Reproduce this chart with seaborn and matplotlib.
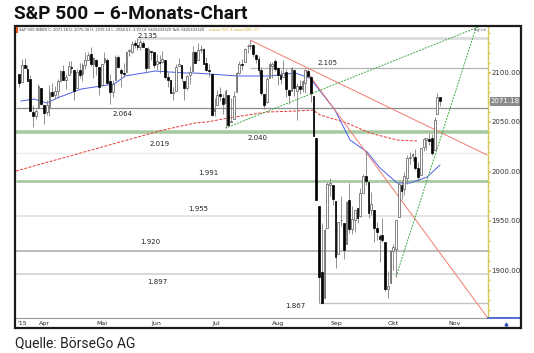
import matplotlib
matplotlib.use('Agg')
import matplotlib.pyplot as plt
from matplotlib.patches import Rectangle
from matplotlib.ticker import MultipleLocator
import numpy as np
import pandas as pd
import seaborn as sns

# Handelstage S&P 500 (US-Feiertage ausgenommen)
first_day = '2015-03-19'
last_day = '2015-10-26'
holidays = ['2015-04-03', '2015-05-25', '2015-07-03', '2015-09-07']

opens = [2098.69, 2090.32,
         2107.99, 2103.94, 2093.10, 2059.94, 2055.78, 2064.11, 2084.05,
         2067.63, 2060.03, 2064.87, 2080.79, 2076.94, 2081.29, 2091.51, 2102.03, 2092.28, 2097.82, 2105.96,
         2102.58, 2084.11, 2102.82, 2098.27, 2107.21, 2112.80, 2119.29, 2108.35, 2112.49, 2105.52,
         2087.38, 2110.23, 2112.63, 2091.26, 2079.96, 2092.13, 2115.56, 2102.87, 2099.62, 2100.43,
         2122.07, 2121.30, 2129.45, 2127.79, 2125.55, 2130.36, 2125.34, 2105.13, 2122.27, 2120.66,
         2108.64, 2110.41, 2110.64, 2112.35, 2095.09, 2092.34, 2079.07, 2081.12, 2106.24, 2107.43, 2091.34,
         2084.26, 2097.40, 2101.58, 2121.06, 2112.50, 2123.16, 2123.65, 2109.96, 2102.62, 2098.63, 2061.19,
         2067.00, 2078.03, 2073.95, 2069.52, 2077.66, 2049.73, 2052.74, 2080.03, 2099.72, 2109.21, 2110.55,
         2126.80, 2126.85, 2127.55, 2118.21, 2114.16, 2102.24, 2078.19, 2070.75, 2094.70, 2106.78, 2111.60,
         2104.49, 2097.68, 2095.27, 2100.75, 2082.61, 2080.98, 2102.66, 2081.10, 2086.19, 2083.15, 2089.70,
         2101.99, 2095.69, 2076.61, 2034.08, 1965.15, 1898.08, 1872.75, 1942.77, 1986.06, 1986.73,
         1970.09, 1916.52, 1950.79, 1947.76, 1927.30, 1971.45, 1941.59, 1951.45, 1963.06, 1955.10, 1978.02,
         1995.33, 1989.66, 1960.84, 1961.39, 1943.24, 1934.81, 1935.93, 1929.18, 1881.90, 1887.14,
         1919.65, 1921.77, 1954.33, 1986.63, 1982.34, 1994.01, 2013.73, 2015.65, 2015.00, 2003.66, 1996.47,
         2024.37, 2031.73, 2033.13, 2033.47, 2021.88, 2058.19, 2075.08]
highs = [2098.69, 2113.92,
         2114.86, 2107.63, 2097.43, 2067.15, 2062.83, 2088.97, 2084.05,
         2067.63, 2072.17, 2086.99, 2089.81, 2086.69, 2093.31, 2102.61, 2107.65, 2098.62, 2111.91, 2111.30,
         2102.58, 2103.94, 2109.64, 2109.98, 2120.49, 2120.92, 2125.92, 2116.04, 2113.65, 2105.52,
         2108.41, 2120.95, 2115.24, 2098.42, 2092.90, 2117.66, 2117.69, 2105.06, 2110.19, 2121.45,
         2123.89, 2131.78, 2133.02, 2134.72, 2134.28, 2132.15, 2125.34, 2126.22, 2122.27, 2120.66,
         2119.15, 2117.59, 2121.92, 2112.89, 2100.99, 2093.01, 2085.62, 2108.50, 2115.02, 2107.43, 2091.34,
         2097.40, 2106.79, 2126.65, 2121.64, 2129.87, 2128.03, 2125.10, 2116.04, 2108.92, 2098.63, 2074.28,
         2082.78, 2085.06, 2078.61, 2083.74, 2077.66, 2074.28, 2081.31, 2100.67, 2111.98, 2114.14, 2124.42,
         2128.91, 2132.82, 2128.49, 2118.51, 2116.87, 2106.01, 2078.19, 2095.60, 2110.60, 2110.48, 2114.24,
         2105.70, 2102.51, 2112.66, 2103.32, 2082.61, 2105.35, 2102.66, 2089.06, 2092.93, 2092.45, 2102.87,
         2103.47, 2096.17, 2076.61, 2034.08, 1965.15, 1948.04, 1943.09, 1989.60, 1993.48, 1986.73,
         1970.09, 1948.91, 1975.01, 1947.76, 1970.42, 1988.63, 1965.29, 1961.05, 1963.06, 1983.19, 1997.26,
         2020.86, 1989.66, 1979.64, 1961.39, 1949.52, 1937.17, 1952.89, 1929.18, 1899.48, 1920.53,
         1927.21, 1951.36, 1989.17, 1991.62, 1999.31, 2016.50, 2020.13, 2018.66, 2022.34, 2009.56, 2024.15,
         2033.54, 2034.45, 2039.12, 2037.97, 2055.20, 2079.74, 2075.14]
lows = [2085.56, 2090.32,
        2104.42, 2091.50, 2061.05, 2045.50, 2052.96, 2064.11, 2067.04,
        2048.38, 2057.32, 2056.52, 2076.10, 2073.30, 2074.29, 2091.51, 2092.33, 2083.24, 2097.82, 2100.02,
        2072.37, 2084.11, 2094.38, 2091.05, 2103.19, 2112.80, 2107.04, 2094.89, 2097.41, 2077.59,
        2087.38, 2108.29, 2088.46, 2067.93, 2074.99, 2092.13, 2104.58, 2085.57, 2096.04, 2100.43,
        2116.81, 2120.01, 2124.50, 2122.59, 2122.95, 2126.06, 2099.18, 2105.13, 2112.86, 2104.89,
        2102.54, 2099.14, 2109.61, 2093.23, 2085.67, 2079.11, 2072.14, 2081.12, 2106.24, 2091.33, 2072.49,
        2082.10, 2088.86, 2101.58, 2109.45, 2112.50, 2119.89, 2108.58, 2101.78, 2095.38, 2056.64, 2056.32,
        2067.00, 2071.02, 2058.40, 2044.02, 2044.66, 2049.73, 2052.74, 2080.03, 2098.18, 2102.49, 2110.55,
        2119.88, 2123.66, 2115.40, 2110.00, 2098.63, 2077.09, 2063.52, 2069.09, 2094.08, 2094.97, 2102.07,
        2087.31, 2088.60, 2095.27, 2075.53, 2067.91, 2080.98, 2076.49, 2052.09, 2078.26, 2080.61, 2079.30,
        2094.14, 2070.53, 2035.73, 1970.89, 1867.01, 1867.08, 1872.75, 1942.77, 1975.19, 1965.98,
        1903.07, 1916.52, 1944.72, 1911.21, 1927.30, 1937.88, 1937.19, 1939.19, 1948.27, 1954.30, 1977.93,
        1986.73, 1953.45, 1955.80, 1929.22, 1930.67, 1908.92, 1928.40, 1879.21, 1871.91, 1887.14,
        1900.70, 1893.70, 1954.33, 1971.99, 1976.44, 1987.53, 2007.61, 2010.55, 2001.78, 1990.73, 1996.47,
        2020.46, 2022.31, 2026.61, 2017.22, 2021.88, 2058.19, 2066.53]
closes = [2089.27, 2108.10,
          2104.42, 2091.50, 2061.05, 2056.15, 2061.02, 2086.24, 2067.89,
          2059.69, 2066.96, 2080.62, 2076.33, 2081.90, 2091.18, 2102.06, 2092.43, 2095.84, 2106.63, 2104.99,
          2081.18, 2100.40, 2097.29, 2107.96, 2112.93, 2117.69, 2108.92, 2114.76, 2106.85, 2085.51,
          2108.29, 2114.49, 2089.46, 2080.15, 2088.00, 2116.10, 2105.33, 2099.12, 2098.48, 2121.10,
          2122.73, 2129.20, 2127.83, 2125.85, 2130.82, 2126.06, 2104.20, 2123.48, 2120.79, 2107.39,
          2111.73, 2109.60, 2114.07, 2095.84, 2092.83, 2079.28, 2080.15, 2105.20, 2108.86, 2094.11, 2084.43,
          2096.29, 2100.44, 2121.24, 2109.99, 2122.85, 2124.20, 2108.58, 2102.31, 2101.49, 2057.64, 2063.11,
          2077.42, 2076.78, 2068.76, 2081.34, 2046.68, 2051.31, 2076.62, 2099.60, 2108.95, 2107.40, 2124.29,
          2126.64, 2128.28, 2119.21, 2114.15, 2102.15, 2079.65, 2067.64, 2093.25, 2108.57, 2108.63, 2103.84,
          2098.04, 2093.32, 2099.84, 2083.56, 2077.57, 2104.18, 2084.07, 2086.05, 2083.39, 2091.54, 2102.44,
          2096.92, 2079.61, 2035.73, 1970.89, 1893.21, 1867.61, 1940.51, 1987.66, 1988.87, 1972.18,
          1913.85, 1948.86, 1951.13, 1921.22, 1969.41, 1942.04, 1952.29, 1961.05, 1953.03, 1978.09, 1995.31,
          1990.20, 1958.03, 1966.97, 1942.74, 1938.76, 1932.24, 1931.34, 1881.77, 1884.09, 1920.03,
          1923.82, 1951.36, 1987.05, 1979.92, 1995.83, 2013.43, 2014.89, 2017.46, 2003.69, 1994.24, 2023.86,
          2033.11, 2033.66, 2030.77, 2018.94, 2052.51, 2075.15, 2071.18]

blue_ma_idx = [0.6, 5.4, 10.1, 13.7, 22.5, 34.5, 38.5, 49.4, 60.3, 63.9, 79.5, 91.2, 100.3,
               105.7, 114.8, 120.3, 126.5, 131.2, 137.4, 142.1, 148.3, 153.0]
blue_ma_val = [2071.3, 2073.3, 2069.3, 2074.3, 2083.4, 2088.5, 2096.6, 2101.6, 2099.6, 2099.6,
               2096.6, 2096.6, 2099.6, 2094.5, 2062.2, 2031.9, 2019.8, 2003.6, 1988.5, 1988.5,
               1994.5, 2006.7]
red_ma_idx = [-1.2, 52.3, 63.9, 68.3, 75.9, 90.1, 100.3, 106.8, 109.4, 119.2, 127.5, 137.4, 144.6]
red_ma_val = [2000.6, 2042.0, 2049.1, 2050.1, 2054.1, 2060.2, 2061.2, 2062.2, 2057.2, 2049.1,
              2039.0, 2031.9, 2030.9]

# Trendlinien (Start- und Endpunkt)
red_trend_idx = [84, 170.1]
red_trend_val = [2132.8, 2016.8]
red_steep_idx = [104, 170.4]
red_steep_val = [2103.0, 1852.0]
green_trend_idx = [75, 168.6]
green_trend_val = [2044.0, 2148.0]
green_steep_idx = [137, 166.4]
green_steep_val = [1893.7, 2148.0]

# Unterstuetzungen / Widerstaende
levels = [2135, 2105, 2064, 2040, 2019, 1991, 1955, 1920, 1897, 1867]
level_labels = ['2.135', '2.105', '2.064', '2.040', '2.019', '1.991', '1.955', '1.920', '1.897', '1.867']

yticks = [1900, 1950, 2000, 2050, 2100]
last_price = 2071.18
month_names = ['Apr', 'Mai', 'Jun', 'Jul', 'Aug', 'Sep', 'Okt', 'Nov']
header = ('S&P 500 INDEX C: 2071.18 O: 2075.08 H: 2075.14 L: 2066.53 -3.97 '
          'LV: 6625632320 TwV: 6625632320')
header_ma = 'mavsr (50; 4 mavs(200, 1))'

# ---------------------------------------------------------------
dates = pd.bdate_range(first_day, last_day, freq='C', holidays=holidays)
df = pd.DataFrame({'date': dates, 'open': opens, 'high': highs, 'low': lows, 'close': closes})
df['i'] = np.arange(len(df))
df['up'] = df['close'] >= df['open']

month_first = df.groupby(df['date'].dt.month)['i'].min()
month_pos = [month_first[m] for m in range(4, 11)]
month_pos.append(len(df) + np.busday_count('2015-10-27', '2015-11-02', holidays=holidays))

sns.set_theme(style='white')
plt.rcParams['font.family'] = ['DejaVu Sans']

W, H = 534, 353
fig = plt.figure(figsize=(W / 100, H / 100), dpi=100)
fig.patch.set_facecolor('white')


def box(x0, y0, x1, y1):
    return [x0 / W, 1 - y1 / H, (x1 - x0) / W, (y1 - y0) / H]


XLIM = (-1.18, 170.45)
YLIM = (1852.1, 2147.1)

ax = fig.add_axes(box(16, 26, 488, 318))
ax.set_xlim(*XLIM)
ax.set_ylim(*YLIM)
ax.set_xticks([])
ax.set_yticks([])
for s in ax.spines.values():
    s.set_visible(False)

# horizontale Linien
level_style = {2135: ('#dcdcdc', 2.0), 2105: ('#b4b4b4', 0.9), 2064: ('#8c8c8c', 0.9),
               2040: ('#a9c9a4', 2.6), 2019: ('#ececec', 1.0), 1991: ('#a9c9a4', 2.0),
               1955: ('#e4e4e4', 1.4), 1920: ('#a8a8a8', 1.1), 1897: ('#d4d4d4', 1.3),
               1867: ('#c4c4c4', 1.0)}
level_start = {2135: 43, 2105: 84, 1867: 109}
label_pos = {2135: (46.5, 2137.0), 2105: (112.0, 2109.7), 2064: (37.4, 2058.2),
             2040: (86.8, 2034.0), 2019: (51.2, 2027.9), 1991: (68.6, 1998.6),
             1955: (65.0, 1962.2), 1920: (47.5, 1928.9), 1897: (50.1, 1888.5),
             1867: (100.3, 1864.2)}
for lv, lab in zip(levels, level_labels):
    col, lw = level_style[lv]
    ax.hlines(lv, level_start.get(lv, XLIM[0]), XLIM[1], color=col, lw=lw, zorder=1)
    tx, ty = label_pos[lv]
    ax.text(tx, ty, lab, fontsize=5, color='#222222', ha='center', va='center', zorder=6)

# Trendlinien und Durchschnitte
sns.lineplot(x=red_ma_idx, y=red_ma_val, ax=ax, color='#e8392f', lw=0.7,
             linestyle=(0, (3, 1.5)), estimator=None, sort=False, zorder=2)
sns.lineplot(x=blue_ma_idx, y=blue_ma_val, ax=ax, color='#4a5ee8', lw=0.7,
             estimator=None, sort=False, zorder=2)
sns.lineplot(x=red_trend_idx, y=red_trend_val, ax=ax, color='#f07a72', lw=0.7,
             estimator=None, sort=False, zorder=2)
sns.lineplot(x=red_steep_idx, y=red_steep_val, ax=ax, color='#f07a72', lw=0.7,
             estimator=None, sort=False, zorder=2)
sns.lineplot(x=green_trend_idx, y=green_trend_val, ax=ax, color='#3faa3f', lw=0.7,
             linestyle=(0, (2, 1.2)), estimator=None, sort=False, zorder=2)
sns.lineplot(x=green_steep_idx, y=green_steep_val, ax=ax, color='#3faa3f', lw=0.7,
             linestyle=(0, (2, 1.2)), estimator=None, sort=False, zorder=2)

# Kerzen
ax.vlines(df['i'], df['low'], df['high'], color='#808080', lw=0.6, zorder=3)
body_low = np.minimum(df['open'], df['close'])
body_h = np.maximum((df['close'] - df['open']).abs(), 0.6)
ax.bar(df['i'], body_h, bottom=body_low, width=0.72,
       color=np.where(df['up'], 'white', 'black'),
       edgecolor=np.where(df['up'], '#555555', 'black'), linewidth=0.5, zorder=4)
ax.set_xlim(*XLIM)
ax.set_ylim(*YLIM)
ax.set_xlabel('')
ax.set_ylabel('')

# Kopfzeile im Chart
ax.text(0.006, 0.988, header, transform=ax.transAxes, fontsize=2.6, color='#333333', va='center')
ax.text(0.409, 0.988, header_ma, transform=ax.transAxes, fontsize=2.6, color='#d9a520', va='center')
ax.text(0.998, 0.985, 'täglich', transform=ax.transAxes, fontsize=2.8, color='#666666',
        va='center', ha='right')

# rechte Kursachse
axr = fig.add_axes(box(488, 26, 521, 318))
axr.set_ylim(*YLIM)
axr.set_xlim(0, 1)
axr.set_xticks([])
axr.set_yticks(yticks)
axr.yaxis.set_minor_locator(MultipleLocator(10))
axr.tick_params(axis='y', which='major', direction='in', length=2.5, color='#d9c75a',
                labelleft=False, left=True)
axr.tick_params(axis='y', which='minor', direction='in', length=1.5, color='#d9c75a', left=True)
for name, s in axr.spines.items():
    s.set_visible(name == 'left')
axr.spines['left'].set_color('#d9c75a')
axr.spines['left'].set_linewidth(1.0)
for t in yticks:
    axr.text(0.1, t, f'{t:.2f}', fontsize=5, color='#333333', va='center', ha='left', clip_on=True)
axr.text(0.08, last_price, f'{last_price:.2f}', fontsize=5, color='white', va='center', ha='left',
         bbox=dict(boxstyle='square,pad=0.15', fc='#8c8c8c', ec='#555555', lw=0.4))

# Zeitachse
axb = fig.add_axes(box(16, 318, 488, 328))
axb.set_xlim(*XLIM)
axb.set_ylim(0, 1)
axb.set_xticks([])
axb.set_yticks([])
for name, s in axb.spines.items():
    s.set_visible(name == 'top')
axb.spines['top'].set_color('#9a9a9a')
axb.spines['top'].set_linewidth(0.8)
axb.text(-0.8, 0.45, "'15", fontsize=4.5, color='#222222', va='center', ha='left')
for pos, name in zip(month_pos, month_names):
    axb.text(pos - 1.95, 0.45, name, fontsize=4.5, color='#222222', va='center', ha='left')

axc = fig.add_axes(box(488, 318, 521, 328))
axc.set_xlim(0, 1)
axc.set_ylim(0, 1)
axc.set_xticks([])
axc.set_yticks([])
for name, s in axc.spines.items():
    s.set_visible(name == 'top')
axc.spines['top'].set_color('#3c5cc8')
axc.plot([0.55], [0.45], marker='^', ms=2, color='#2b4cc0')

# Rahmen und Markierung
fig.add_artist(Rectangle((14.5 / W, 1 - 328 / H), (521 - 14.5) / W, (328 - 25.5) / H,
                         transform=fig.transFigure, fill=False, lw=1.6, ec='#1a1a1a'))
fig.add_artist(Rectangle((15.5 / W, 1 - 33 / H), 2 / W, 6 / H, transform=fig.transFigure,
                         color='#e2531b', lw=0))

fig.text(14 / W, 1 - 19 / H, 'S&P 500 – 6-Monats-Chart', fontsize=13.8, fontweight='bold',
         family=['Roboto', 'DejaVu Sans'], va='baseline', color='#111111')
fig.text(15 / W, 1 - 347 / H, 'Quelle: BörseGo AG', fontsize=10,
         family=['Roboto', 'DejaVu Sans'], va='baseline', color='#222222')

fig.savefig('out.png', dpi=100)
